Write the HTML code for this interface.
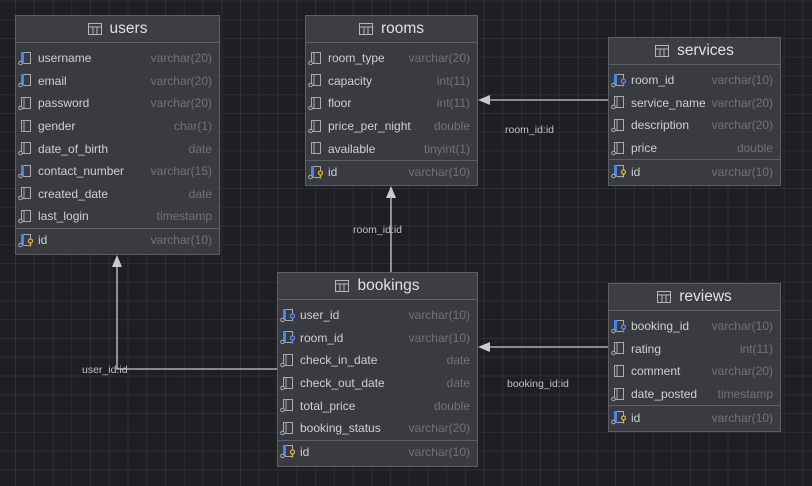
<!DOCTYPE html>
<html><head><meta charset="utf-8"><style>
body{margin:0;width:812px;height:486px;overflow:hidden;background:#1e1f22;
background-image:linear-gradient(#2d2f32 1px,transparent 1px),linear-gradient(90deg,#2d2f32 1px,transparent 1px);
background-size:18.75px 18.75px;background-position:15px 0.5px;font-family:"Liberation Sans",sans-serif;position:relative}
.t{position:absolute;background:#393b40;border:1px solid #5c5f65;box-sizing:border-box}
.h{height:27px;background:#3c3e41;border-bottom:1px solid #5c5f65;box-sizing:border-box;display:flex;align-items:center;justify-content:center;color:#dfe1e5;font-size:15.5px}
.h svg{margin-right:8px}
.b{padding-top:4px}
.r,.s{height:22.6px;display:flex;align-items:center;padding:0 7px 0 2px;font-size:12px;color:#ccd0d6;white-space:nowrap}
.r svg,.s svg{margin-right:5px;flex:none}
.ty{margin-left:auto;color:#6f737a;padding-left:4px}
.s{border-top:1px solid #5c5f65}
.lbl{position:absolute;color:#c0c2c6;font-size:10.5px}
</style></head><body>
<svg width="0" height="0" style="position:absolute">
<defs>
<g id="col"><rect x="3.5" y="1.5" width="9" height="11" fill="none" stroke="#a8abb0"/><line x1="6" y1="1.5" x2="6" y2="12" stroke="#a8abb0"/><circle cx="2.5" cy="12" r="1.8" fill="#393b40" stroke="#a8abb0"/></g>
<g id="pl"><rect x="3.5" y="1.5" width="9" height="11" fill="none" stroke="#a8abb0"/><line x1="6" y1="1.5" x2="6" y2="12" stroke="#a8abb0"/></g>
<g id="ix"><rect x="3.5" y="1.5" width="9" height="11" fill="none" stroke="#a8abb0"/><rect x="3" y="1" width="3" height="12" fill="#4a86e8"/><circle cx="2.5" cy="12" r="1.8" fill="#393b40" stroke="#a8abb0"/></g>
<g id="fk"><rect x="3.5" y="1.5" width="9" height="11" fill="none" stroke="#a8abb0"/><rect x="3" y="1" width="3" height="12" fill="#4a86e8"/><circle cx="2.5" cy="12" r="1.8" fill="#393b40" stroke="#a8abb0"/><circle cx="12.5" cy="8" r="2" fill="#393b40" stroke="#5b8de8" stroke-width="1.3"/><line x1="12.5" y1="10" x2="12.5" y2="13.5" stroke="#5b8de8" stroke-width="1.3"/></g>
<g id="pk"><rect x="3.5" y="1.5" width="9" height="11" fill="none" stroke="#a8abb0"/><rect x="3" y="1" width="3" height="12" fill="#4a86e8"/><circle cx="2.5" cy="12" r="1.8" fill="#393b40" stroke="#a8abb0"/><circle cx="12.5" cy="8" r="2" fill="#393b40" stroke="#e0b040" stroke-width="1.3"/><line x1="12.5" y1="10" x2="12.5" y2="13.5" stroke="#e0b040" stroke-width="1.3"/></g>
<g id="tb"><rect x="0.5" y="0.5" width="13" height="11" fill="none" stroke="#b4b7bc"/><line x1="0.5" y1="4" x2="13.5" y2="4" stroke="#b4b7bc"/><line x1="5" y1="4" x2="5" y2="11.5" stroke="#b4b7bc"/><line x1="9" y1="4" x2="9" y2="11.5" stroke="#b4b7bc"/></g>
</defs></svg>

<svg width="812" height="486" style="position:absolute;left:0;top:0">
<g stroke="#c8cacd" stroke-width="1.3" fill="none">
<line x1="608" y1="100" x2="480" y2="100"/>
<line x1="391" y1="272" x2="391" y2="188"/>
<polyline points="277,369 117,369 117,257"/>
<line x1="608" y1="347" x2="480" y2="347"/>
</g>
<g fill="#c8cacd">
<polygon points="478,100 490,95 490,105"/>
<polygon points="391,186 386,198 396,198"/>
<polygon points="117,255 112,267 122,267"/>
<polygon points="478,347 490,342 490,352"/>
</g>
</svg>
<div class="lbl" style="left:505px;top:124px">room_id:id</div>
<div class="lbl" style="left:353px;top:224px">room_id:id</div>
<div class="lbl" style="left:82px;top:364px">user_id:id</div>
<div class="lbl" style="left:507px;top:378px">booking_id:id</div>

<div class="t" style="left:15px;top:15px;width:205px;height:240px">
<div class="h"><svg width="14" height="12"><use href="#tb"/></svg>users</div>
<div class="b">
<div class="r"><svg width="15" height="15"><use href="#ix"/></svg>username<span class="ty">varchar(20)</span></div>
<div class="r"><svg width="15" height="15"><use href="#ix"/></svg>email<span class="ty">varchar(20)</span></div>
<div class="r"><svg width="15" height="15"><use href="#col"/></svg>password<span class="ty">varchar(20)</span></div>
<div class="r"><svg width="15" height="15"><use href="#pl"/></svg>gender<span class="ty">char(1)</span></div>
<div class="r"><svg width="15" height="15"><use href="#col"/></svg>date_of_birth<span class="ty">date</span></div>
<div class="r"><svg width="15" height="15"><use href="#ix"/></svg>contact_number<span class="ty">varchar(15)</span></div>
<div class="r"><svg width="15" height="15"><use href="#col"/></svg>created_date<span class="ty">date</span></div>
<div class="r"><svg width="15" height="15"><use href="#col"/></svg>last_login<span class="ty">timestamp</span></div>
<div class="s"><svg width="15" height="15"><use href="#pk"/></svg>id<span class="ty">varchar(10)</span></div>
</div></div>

<div class="t" style="left:305px;top:15px;width:173px;height:171px">
<div class="h"><svg width="14" height="12"><use href="#tb"/></svg>rooms</div>
<div class="b">
<div class="r"><svg width="15" height="15"><use href="#col"/></svg>room_type<span class="ty">varchar(20)</span></div>
<div class="r"><svg width="15" height="15"><use href="#col"/></svg>capacity<span class="ty">int(11)</span></div>
<div class="r"><svg width="15" height="15"><use href="#col"/></svg>floor<span class="ty">int(11)</span></div>
<div class="r"><svg width="15" height="15"><use href="#col"/></svg>price_per_night<span class="ty">double</span></div>
<div class="r"><svg width="15" height="15"><use href="#pl"/></svg>available<span class="ty">tinyint(1)</span></div>
<div class="s"><svg width="15" height="15"><use href="#pk"/></svg>id<span class="ty">varchar(10)</span></div>
</div></div>

<div class="t" style="left:608px;top:37px;width:173px;height:149px">
<div class="h"><svg width="14" height="12"><use href="#tb"/></svg>services</div>
<div class="b">
<div class="r"><svg width="15" height="15"><use href="#fk"/></svg>room_id<span class="ty">varchar(10)</span></div>
<div class="r"><svg width="15" height="15"><use href="#col"/></svg>service_name<span class="ty">varchar(20)</span></div>
<div class="r"><svg width="15" height="15"><use href="#col"/></svg>description<span class="ty">varchar(20)</span></div>
<div class="r"><svg width="15" height="15"><use href="#col"/></svg>price<span class="ty">double</span></div>
<div class="s"><svg width="15" height="15"><use href="#pk"/></svg>id<span class="ty">varchar(10)</span></div>
</div></div>

<div class="t" style="left:277px;top:272px;width:201px;height:195px">
<div class="h"><svg width="14" height="12"><use href="#tb"/></svg>bookings</div>
<div class="b">
<div class="r"><svg width="15" height="15"><use href="#fk"/></svg>user_id<span class="ty">varchar(10)</span></div>
<div class="r"><svg width="15" height="15"><use href="#fk"/></svg>room_id<span class="ty">varchar(10)</span></div>
<div class="r"><svg width="15" height="15"><use href="#col"/></svg>check_in_date<span class="ty">date</span></div>
<div class="r"><svg width="15" height="15"><use href="#col"/></svg>check_out_date<span class="ty">date</span></div>
<div class="r"><svg width="15" height="15"><use href="#col"/></svg>total_price<span class="ty">double</span></div>
<div class="r"><svg width="15" height="15"><use href="#col"/></svg>booking_status<span class="ty">varchar(20)</span></div>
<div class="s"><svg width="15" height="15"><use href="#pk"/></svg>id<span class="ty">varchar(10)</span></div>
</div></div>

<div class="t" style="left:608px;top:283px;width:173px;height:149px">
<div class="h"><svg width="14" height="12"><use href="#tb"/></svg>reviews</div>
<div class="b">
<div class="r"><svg width="15" height="15"><use href="#fk"/></svg>booking_id<span class="ty">varchar(10)</span></div>
<div class="r"><svg width="15" height="15"><use href="#col"/></svg>rating<span class="ty">int(11)</span></div>
<div class="r"><svg width="15" height="15"><use href="#pl"/></svg>comment<span class="ty">varchar(20)</span></div>
<div class="r"><svg width="15" height="15"><use href="#col"/></svg>date_posted<span class="ty">timestamp</span></div>
<div class="s"><svg width="15" height="15"><use href="#pk"/></svg>id<span class="ty">varchar(10)</span></div>
</div></div>
</body></html>
